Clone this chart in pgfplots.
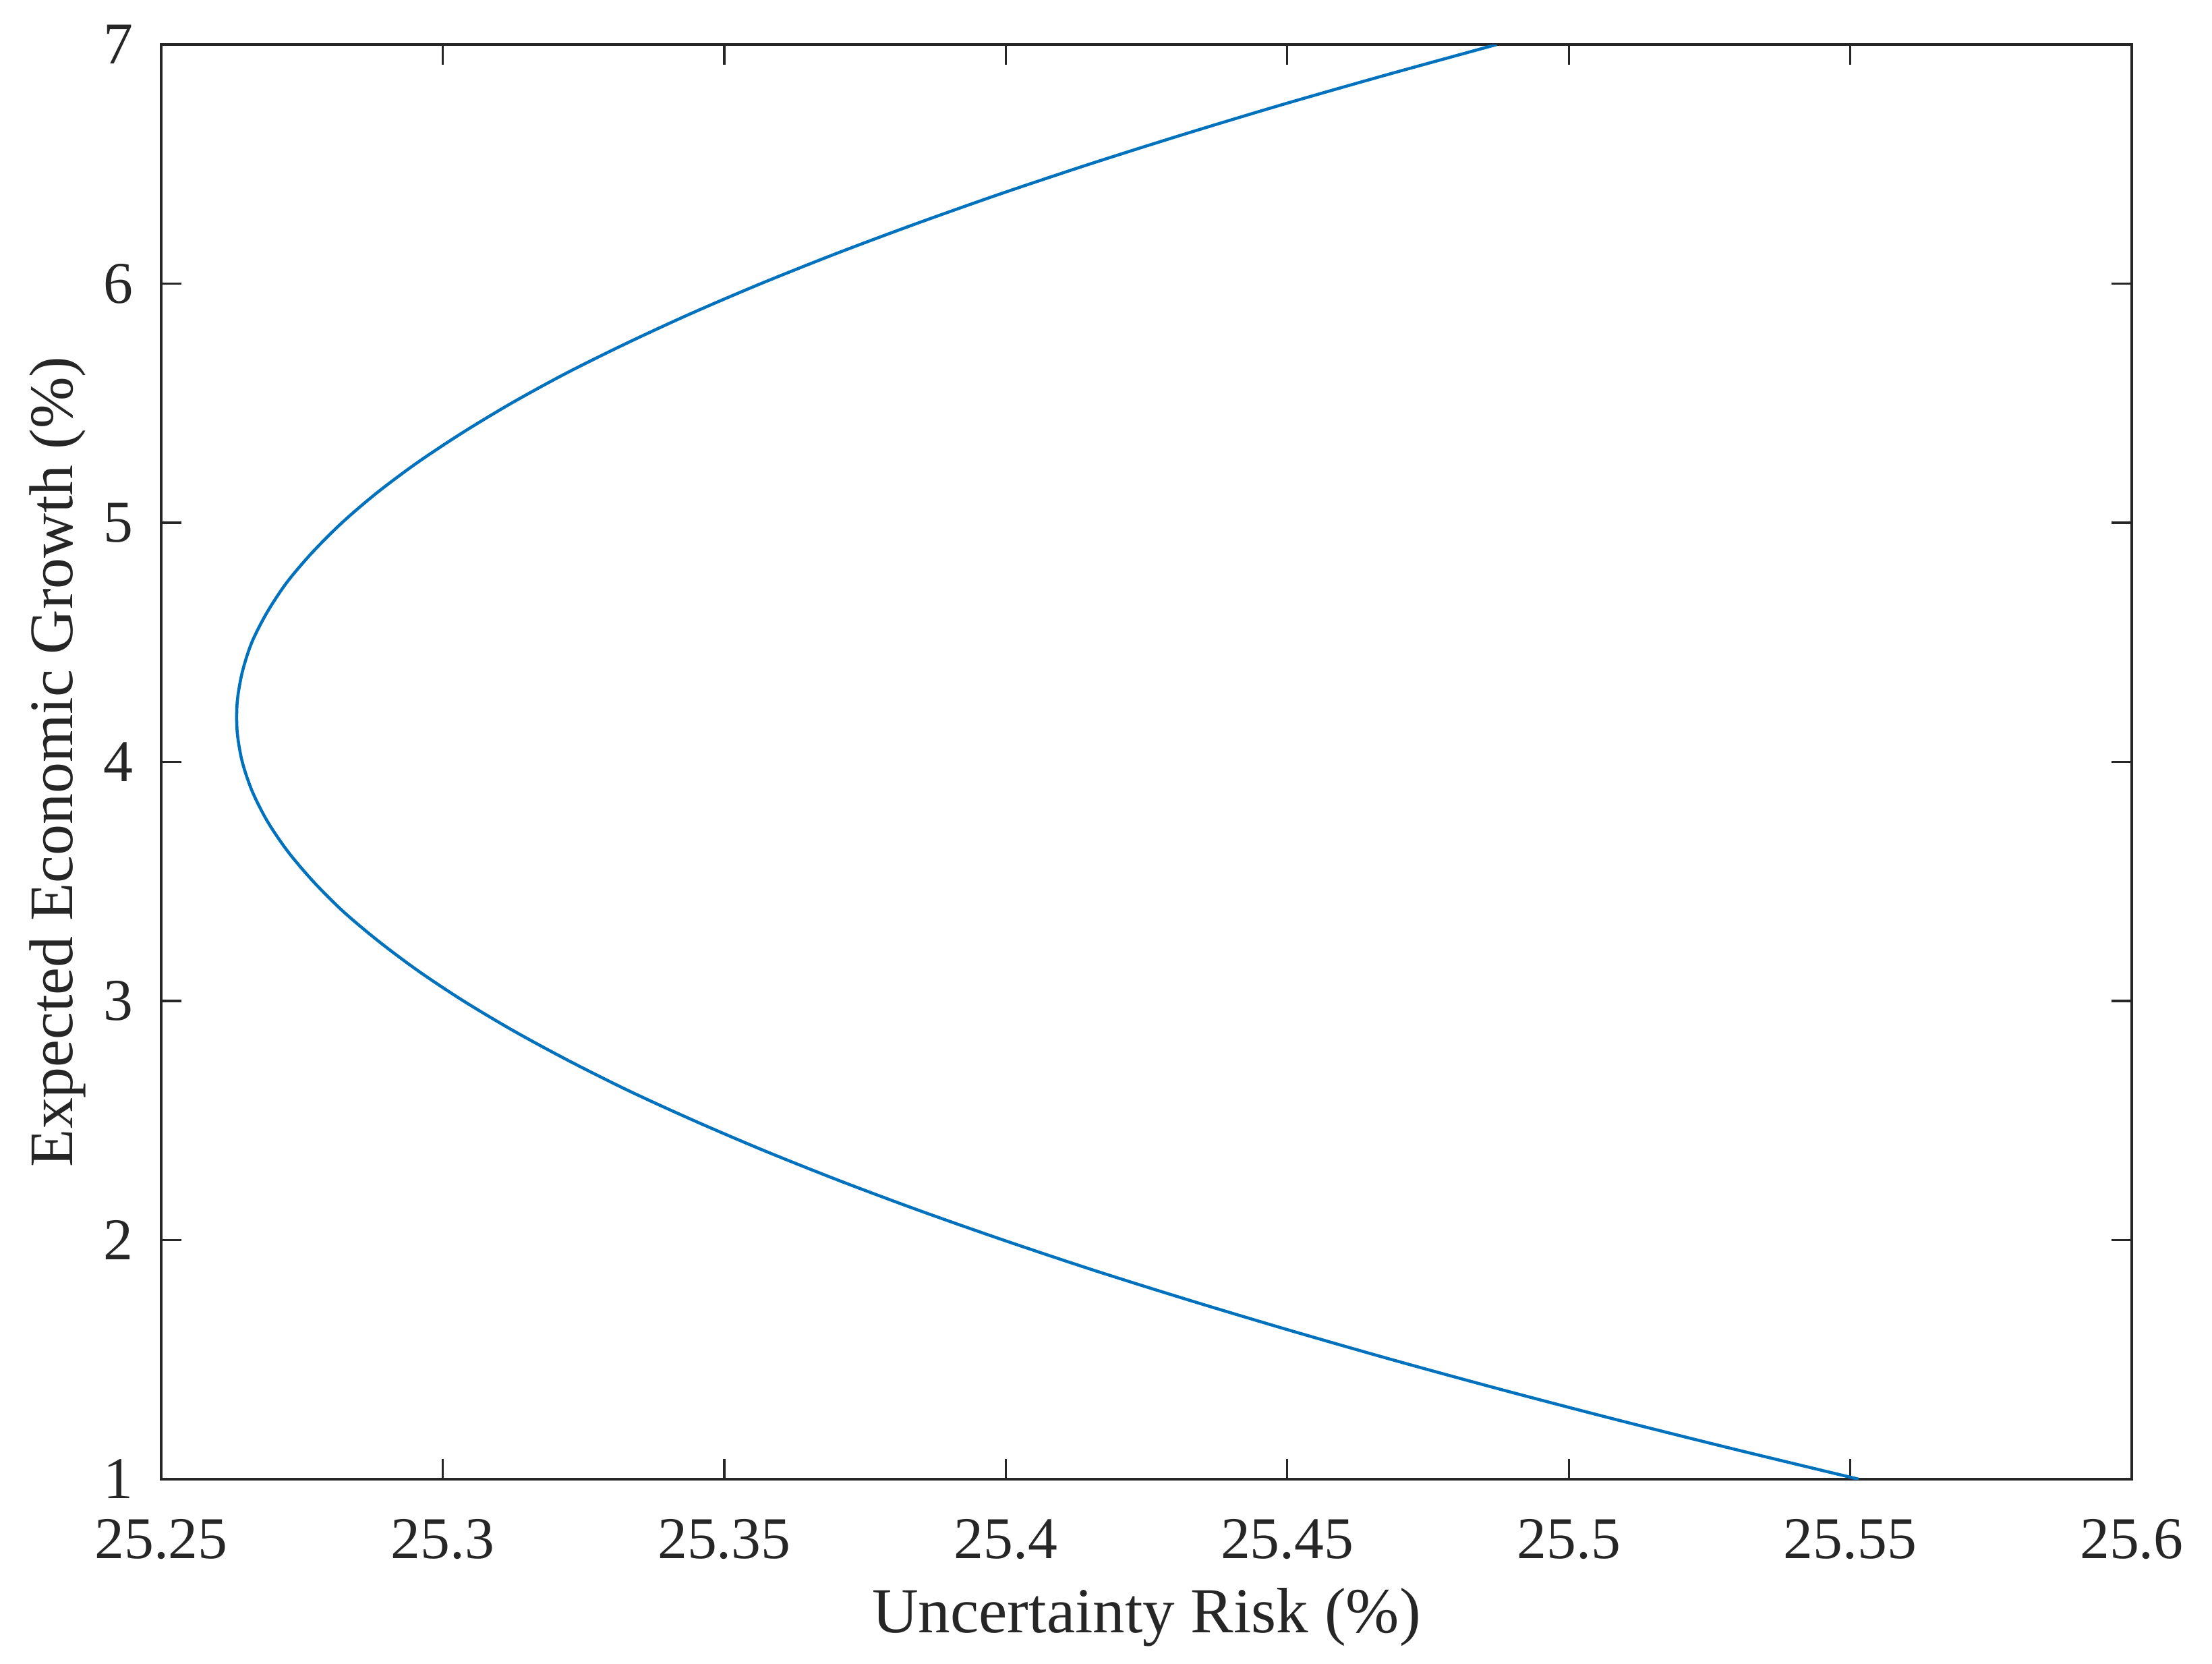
\documentclass[border=0pt]{standalone}
\usepackage{fontspec}
\setmainfont{Liberation Serif}
\usepackage{pgfplots}
\pgfplotsset{compat=1.18}
\definecolor{mblue}{rgb}{0,0.447,0.741}
\definecolor{axgray}{rgb}{0.15,0.15,0.15}
\begin{document}
\begin{tikzpicture}
\useasboundingbox (-29.15pt,-33.41pt) rectangle (370.85pt,267.44pt);
\begin{axis}[
  at={(0pt,0pt)}, anchor=south west,
  scale only axis,
  width=356.34pt, height=259.39pt,
  xmin=25.25, xmax=25.6, ymin=1, ymax=7,
  xtick={25.25,25.3,25.35,25.4,25.45,25.5,25.55,25.6},
  xticklabels={25.25,25.3,25.35,25.4,25.45,25.5,25.55,25.6},
  ytick={1,2,3,4,5,6,7},
  tick align=inside,
  major tick length=3.7pt,
  axis line style={draw=axgray, line width=0.5pt},
  every tick/.style={draw=axgray, line width=0.4pt},
  /pgf/number format/assume math mode=true,
  tick label style={font=\fontsize{10.7}{12}\selectfont, text=axgray},
  xticklabel style={anchor=base, yshift=-14.27pt},
  yticklabel style={xshift=-1.56pt},
  every axis x label/.style={at={(axis description cs:0.5,-0.1068)}, anchor=base, font=\fontsize{11.6}{13}\selectfont, text=axgray},
  every axis y label/.style={at={(axis description cs:-0.0449,0.5)}, anchor=base, rotate=90, font=\fontsize{11.2}{13}\selectfont, text=axgray},
  xlabel={Uncertainty Risk (\%)},
  ylabel={Expected Economic Growth (\%)},
]
\addplot[mblue, line width=0.55pt, smooth, no marks] coordinates {
(25.5515,1.000) (25.5295,1.125) (25.5083,1.250) (25.4880,1.375)
(25.4686,1.500) (25.4501,1.625) (25.4324,1.750) (25.4155,1.875)
(25.3996,2.000) (25.3845,2.125) (25.3703,2.250) (25.3570,2.375)
(25.3446,2.500) (25.3330,2.625) (25.3224,2.750) (25.3126,2.875)
(25.3037,3.000) (25.2957,3.125) (25.2886,3.250) (25.2823,3.375)
(25.2770,3.500) (25.2725,3.625) (25.2689,3.750) (25.2662,3.875)
(25.2644,4.000) (25.2635,4.125) (25.2635,4.250) (25.2644,4.375)
(25.2661,4.500) (25.2688,4.625) (25.2723,4.750) (25.2768,4.875)
(25.2821,5.000) (25.2883,5.125) (25.2954,5.250) (25.3034,5.375)
(25.3122,5.500) (25.3219,5.625) (25.3326,5.750) (25.3441,5.875)
(25.3565,6.000) (25.3698,6.125) (25.3840,6.250) (25.3990,6.375)
(25.4149,6.500) (25.4317,6.625) (25.4493,6.750) (25.4679,6.875)
(25.4872,7.000)
};
\end{axis}
\end{tikzpicture}
\end{document}
